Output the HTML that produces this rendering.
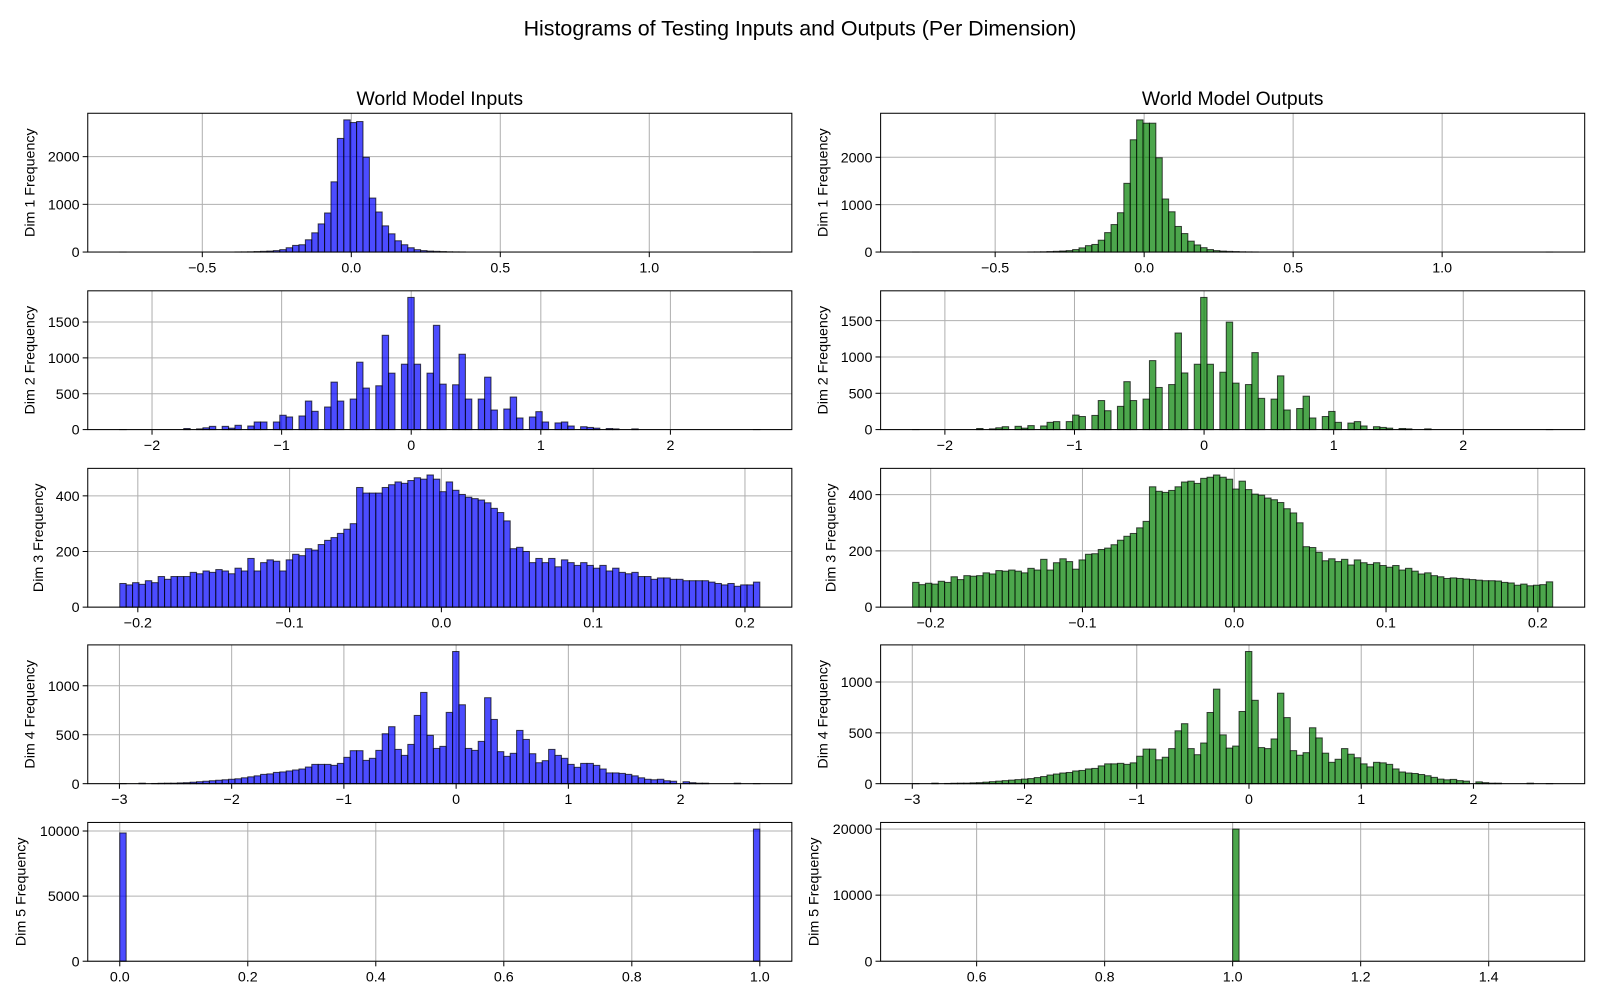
<!DOCTYPE html>
<html><head><meta charset="utf-8">
<style>
html,body{margin:0;padding:0;background:#fff;}
svg{display:block;font-family:"Liberation Sans","DejaVu Sans",sans-serif;}
</style></head>
<body>
<svg id="fig" width="1600" height="1000" viewBox="0 0 1568 980">
<text x="784" y="35" text-anchor="middle" font-size="21" fill="#000">Histograms of Testing Inputs and Outputs (Per Dimension)</text>
<text x="431" y="103" text-anchor="middle" font-size="19" fill="#000">World Model Inputs</text>
<text x="1208" y="103" text-anchor="middle" font-size="19" fill="#000">World Model Outputs</text>
</svg>
<script>
const d1In=[1,0,0,0,0,0,0,0,0,0, 0,0,0,0,0,0,0,0,2,3, 5,10,15,20,30,50,90,139,153,257, 403,590,819,1472,2382,2771,2715,2736,1986,1132, 840,549,382,236,153,90,50,30,20,15, 10,5,3,2,0,0,0,0,0,0, 0,0,0,0,0,0,0,0,0,0, 0,0,0,0,0,0,0,0,0,0, 0,0,0,0,0,0,0,0,0,0, 0,0,0,0,0,0,0,0,0,1];
const d1Out=[1,0,0,0,0,0,0,0,0,0, 0,0,0,0,0,0,0,0,2,3, 5,10,15,22,30,52,88,135,160,250, 410,580,830,1450,2370,2790,2720,2720,1990,1120, 850,540,390,230,150,92,52,30,20,14, 10,5,3,2,0,0,0,0,0,0, 0,0,0,0,0,0,0,0,0,0, 0,0,0,0,0,0,0,0,0,0, 0,0,0,0,0,0,0,0,0,0, 0,0,0,0,0,0,0,0,0,1];
const d2In=[1,0,0,0,0,0,0,0,0,0, 15,0,10,25,45,0,45,20,60,0, 50,106,106,0,106,200,176,0,190,398, 255,0,315,662,398,0,426,940,579,0, 611,1315,787,0,912,1843,912,0,787,1454, 634,0,625,1051,426,0,426,731,273,0, 287,454,162,0,176,250,106,0,93,106, 50,0,40,30,20,0,15,10,0,0, 10,0,0,0,0,0,0,0,0,0, 0,0,0,0,0,0,0,0,0,1];
const d2Out=[1,0,0,0,0,0,0,0,0,0, 15,0,10,25,40,0,45,20,55,0, 50,100,110,0,110,200,180,0,195,400, 260,0,320,660,400,0,420,950,580,0, 620,1330,780,0,900,1820,900,0,790,1480, 640,0,620,1060,430,0,420,740,270,0, 290,460,160,0,180,250,100,0,90,110, 50,0,40,30,20,0,15,10,0,0, 10,0,0,0,0,0,0,0,0,0, 0,0,0,0,0,0,0,0,0,1];
const d3In=[85,80,88,82,95,88,110,100,110,110, 110,125,120,130,125,135,130,120,140,130, 175,130,160,170,165,130,170,190,185,210, 205,225,240,250,265,280,300,430,410,410, 410,430,440,450,445,455,465,460,475,460, 415,450,420,405,395,390,385,375,355,340, 310,210,215,200,160,175,160,175,145,170, 160,150,160,150,140,150,130,140,125,120, 125,110,110,100,105,105,100,100,95,95, 95,95,90,85,80,85,75,80,80,90];
const d3Out=[88,80,85,82,92,88,108,98,112,110, 112,122,118,130,128,132,128,122,138,132, 170,132,158,172,162,135,168,188,190,205, 210,222,238,252,262,282,305,428,412,408, 415,428,445,448,440,458,462,470,462,455, 420,448,418,402,398,388,382,372,350,335, 300,215,212,195,165,172,162,170,150,168, 158,152,158,148,142,148,132,138,128,118, 122,112,108,102,104,102,100,98,96,94, 94,93,88,86,78,82,76,78,80,90];
const d4In=[1,0,0,5,0,2,4,5,5,8, 10,15,20,25,30,35,40,45,50,60, 70,80,95,100,115,120,130,140,150,170, 197,197,197,187,207,269,337,337,238,259, 340,510,582,350,289,401,697,932,493,360, 381,728,1350,806,360,340,432,878,656,327, 279,310,544,452,306,214,235,350,289,259, 197,167,207,207,187,150,110,110,105,95, 80,60,45,40,45,30,25,0,20,10, 5,5,0,0,0,0,5,0,0,1];
const d4Out=[1,0,0,5,0,2,4,5,5,8, 10,15,20,25,30,35,40,45,50,60, 70,85,95,105,110,125,130,145,150,175, 195,195,200,190,205,270,340,340,235,260, 345,520,590,345,285,400,700,930,480,350, 370,710,1300,820,355,345,440,890,650,325, 280,305,550,450,300,210,240,345,290,255, 195,165,210,205,190,145,115,105,100,90, 78,62,45,38,42,30,25,0,18,10, 5,5,0,0,0,0,5,0,0,1];
const d5In=[9850,0,0,0,0,0,0,0,0,0, 0,0,0,0,0,0,0,0,0,0, 0,0,0,0,0,0,0,0,0,0, 0,0,0,0,0,0,0,0,0,0, 0,0,0,0,0,0,0,0,0,0, 0,0,0,0,0,0,0,0,0,0, 0,0,0,0,0,0,0,0,0,0, 0,0,0,0,0,0,0,0,0,0, 0,0,0,0,0,0,0,0,0,0, 0,0,0,0,0,0,0,0,0,10150];
const d5Out=[0,0,0,0,0,0,0,0,0,0, 0,0,0,0,0,0,0,0,0,0, 0,0,0,0,0,0,0,0,0,0, 0,0,0,0,0,0,0,0,0,0, 0,0,0,0,0,0,0,0,0,0, 20000,0,0,0,0,0,0,0,0,0, 0,0,0,0,0,0,0,0,0,0, 0,0,0,0,0,0,0,0,0,0, 0,0,0,0,0,0,0,0,0,0, 0,0,0,0,0,0,0,0,0,0];
const binRanges=[[-0.777,1.371],[-2.249,2.690],[-0.2119,0.2098],[-2.997,2.706],[0,1]];
const xTicks1=[-0.5,0,0.5,1.0]; const xTickLabels1=["\u22120.5","0.0","0.5","1.0"];
const xTicks2=[-2,-1,0,1,2]; const xTickLabels2=["\u22122","\u22121","0","1","2"];
const xTicks3=[-0.2,-0.1,0,0.1,0.2]; const xTickLabels3=["\u22120.2","\u22120.1","0.0","0.1","0.2"];
const xTicks4=[-3,-2,-1,0,1,2]; const xTickLabels4=["\u22123","\u22122","\u22121","0","1","2"];
const xTicks5=[0,0.2,0.4,0.6,0.8,1.0]; const xTickLabels5=["0.0","0.2","0.4","0.6","0.8","1.0"];
const xTicks5R=[0.6,0.8,1.0,1.2,1.4]; const xTickLabels5R=["0.6","0.8","1.0","1.2","1.4"];
const yTicks1=[0,1000,2000]; const yTicks2=[0,500,1000,1500]; const yTicks3=[0,200,400];
const yTicks4=[0,500,1000]; const yTicks5=[0,5000,10000]; const yTicks5R=[0,10000,20000];

const NS="http://www.w3.org/2000/svg";
const fig=document.getElementById('fig');
function mk(tag,attrs,parent){const e=document.createElementNS(NS,tag);for(const k in attrs)e.setAttribute(k,attrs[k]);(parent||fig).appendChild(e);return e;}

const rows=[[111,247],[285,421],[459,595],[632,768],[806,942]];
const cols=[[86,776],[863,1553]];

function panel(side,row,counts,lo,hi,xt,xtl,yt,color,ylabX,name){
  const [x0,x1]=cols[side],[y0,y1]=rows[row];
  const g=mk('g',{});
  
  
  const span=hi-lo,xmin=lo-0.05*span,xmax=hi+0.05*span;
  const sx=v=>x0+(v-xmin)/(xmax-xmin)*(x1-x0);
  const ymax=1.05*Math.max(...counts);
  const sy=c=>y1-c/ymax*(y1-y0);
  xt.forEach((v,i)=>{
    const l=mk('line',{x1:sx(v),x2:sx(v),y1:y0,y2:y1,stroke:'#b0b0b0','stroke-width':1},g);
    
    
    const t=mk('line',{x1:sx(v),x2:sx(v),y1:y1,y2:y1+5,stroke:'#000','stroke-width':1},g);
    
    
    const tx=mk('text',{x:sx(v),y:y1+20,'text-anchor':'middle','font-size':14,fill:'#000'},g);
    tx.textContent=xtl[i];
    
    
  });
  yt.forEach(v=>{
    const l=mk('line',{x1:x0,x2:x1,y1:sy(v),y2:sy(v),stroke:'#b0b0b0','stroke-width':1},g);
    
    
    const t=mk('line',{x1:x0-5,x2:x0,y1:sy(v),y2:sy(v),stroke:'#000','stroke-width':1},g);
    
    
    const tx=mk('text',{x:x0-8,y:sy(v)+5,'text-anchor':'end','font-size':14,fill:'#000'},g);
    tx.textContent=String(v);
    
    
  });
  const bw=span/counts.length;
  counts.forEach((c,i)=>{
    if(c<=0)return;
    const a=sx(lo+i*bw),b=sx(lo+(i+1)*bw);
    const r=mk('rect',{x:a,y:sy(c),width:Math.max(b-a,0.5),height:y1-sy(c),fill:color,'fill-opacity':0.7,stroke:'#000','stroke-opacity':0.7,'stroke-width':1},g);
    
    
  });
  const f=mk('rect',{x:x0,y:y0,width:x1-x0,height:y1-y0,fill:'none',stroke:'#000','stroke-width':1},g);
  
  
  const yl=mk('text',{x:ylabX,y:(y0+y1)/2,'text-anchor':'middle','font-size':14,fill:'#000',transform:`rotate(-90 ${ylabX} ${(y0+y1)/2})`},g);
  yl.textContent=`Dim ${row+1} Frequency`;
  
  
}
const blue='#0000ff',green='#008000';
panel(0,0,d1In,binRanges[0][0],binRanges[0][1],xTicks1,xTickLabels1,yTicks1,blue,34,'dim1-inputs');
panel(1,0,d1Out,binRanges[0][0],binRanges[0][1],xTicks1,xTickLabels1,yTicks1,green,811,'dim1-outputs');
panel(0,1,d2In,binRanges[1][0],binRanges[1][1],xTicks2,xTickLabels2,yTicks2,blue,34,'dim2-inputs');
panel(1,1,d2Out,binRanges[1][0],binRanges[1][1],xTicks2,xTickLabels2,yTicks2,green,811,'dim2-outputs');
panel(0,2,d3In,binRanges[2][0],binRanges[2][1],xTicks3,xTickLabels3,yTicks3,blue,42,'dim3-inputs');
panel(1,2,d3Out,binRanges[2][0],binRanges[2][1],xTicks3,xTickLabels3,yTicks3,green,819,'dim3-outputs');
panel(0,3,d4In,binRanges[3][0],binRanges[3][1],xTicks4,xTickLabels4,yTicks4,blue,34,'dim4-inputs');
panel(1,3,d4Out,binRanges[3][0],binRanges[3][1],xTicks4,xTickLabels4,yTicks4,green,811,'dim4-outputs');
panel(0,4,d5In,binRanges[4][0],binRanges[4][1],xTicks5,xTickLabels5,yTicks5,blue,25,'dim5-inputs');
panel(1,4,d5Out,0.5,1.5,xTicks5R,xTickLabels5R,yTicks5R,green,802,'dim5-outputs');
</script>
</body></html>
